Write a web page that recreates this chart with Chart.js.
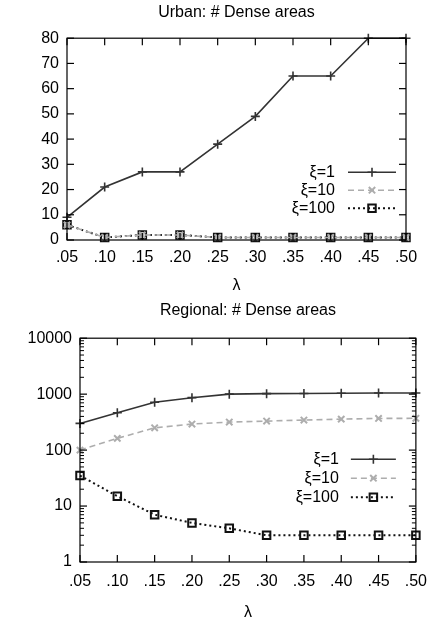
<!DOCTYPE html>
<html>
<head>
<meta charset="utf-8">
<script src="https://cdn.jsdelivr.net/npm/chart.js@4/dist/chart.umd.min.js"></script>
<style>
  html, body { margin: 0; padding: 0; background: #fff; }
  .box { position: absolute; left: 0; width: 437px; }
  #urbanBox { top: 0; height: 298px; }
  #regionalBox { top: 298px; height: 324px; }
</style>
</head>
<body>
<div class="box" id="urbanBox"><canvas id="urban"></canvas></div>
<div class="box" id="regionalBox"><canvas id="regional"></canvas></div>
<script>
const lambdas = ['.05', '.10', '.15', '.20', '.25', '.30', '.35', '.40', '.45', '.50']
const seriesNames = ['ξ=1', 'ξ=10', 'ξ=100']

const urbanXi1 = [9, 21, 27, 27, 38, 49, 65, 65, 80, 80]
const urbanXi10 = [6, 1, 2, 2, 1, 1, 1, 1, 1, 1]
const urbanXi100 = [6, 1, 2, 2, 1, 1, 1, 1, 1, 1]

const regionalXi1 = [300, 465, 715, 865, 1000, 1020, 1030, 1040, 1050, 1050]
const regionalXi10 = [100, 162, 250, 292, 317, 330, 344, 358, 368, 370]
const regionalXi100 = [35, 15, 7, 5, 4, 3, 3, 3, 3, 3]

const FONT = 'Liberation Sans, Arial, sans-serif'
const FS = 16

const styles = [
  { color: '#333333', dash: [], width: 1.6, point: 'cross', radius: 4.5, pw: 1.6 },
  { color: '#adadad', dash: [6, 4], width: 1.6, point: 'crossRot', radius: 4.5, pw: 2 },
  { color: '#111111', dash: [2, 3], width: 2, point: 'rect', radius: 5.3, pw: 2 }
]

function dataset(label, data, s) {
  return {
    label,
    data,
    borderColor: s.color,
    backgroundColor: 'transparent',
    borderDash: s.dash,
    borderWidth: s.width,
    pointStyle: s.point,
    pointRadius: s.radius,
    pointBorderWidth: s.pw,
    pointBorderColor: s.color,
    pointBackgroundColor: 'transparent',
    tension: 0,
    clip: false
  }
}

// gnuplot-like frame with inward ticks on all four sides
const frameTicks = {
  id: 'frameTicks',
  afterDatasetsDraw(chart, args, opts) {
    const { ctx, chartArea: a, scales: { x, y } } = chart
    const line = (x1, y1, x2, y2) => { ctx.beginPath(); ctx.moveTo(x1, y1); ctx.lineTo(x2, y2); ctx.stroke() }
    ctx.save()
    ctx.strokeStyle = '#000'
    ctx.lineWidth = 1.2
    ctx.strokeRect(a.left, a.top, a.right - a.left, a.bottom - a.top)
    const len = 7
    x.ticks.forEach((t, i) => {
      const px = x.getPixelForTick(i)
      line(px, a.bottom, px, a.bottom - len)
      line(px, a.top, px, a.top + len)
    })
    y.ticks.forEach((t, i) => {
      const py = y.getPixelForValue(t.value)
      line(a.left, py, a.left + len, py)
      line(a.right, py, a.right - len, py)
    })
    if (opts.logMinor) {
      ctx.lineWidth = 1
      for (let d = 1; d < 10000; d *= 10) {
        for (let m = 2; m <= 9; m++) {
          const py = y.getPixelForValue(m * d)
          line(a.left, py, a.left + 4, py)
          line(a.right, py, a.right - 4, py)
        }
      }
    }
    ctx.restore()
  }
}

// legend inside the plot: label text, then a line sample with marker
const insideLegend = {
  id: 'insideLegend',
  afterDraw(chart, args, opts) {
    const { ctx, chartArea: a } = chart
    ctx.save()
    ctx.font = FS + 'px ' + FONT
    ctx.textAlign = 'right'
    ctx.textBaseline = 'middle'
    chart.data.datasets.forEach((ds, i) => {
      const s = styles[i]
      const yy = a.top + opts.top + i * opts.step
      const x1 = a.right - opts.sampleStart
      const x2 = a.right - opts.sampleEnd
      ctx.fillStyle = '#000'
      ctx.fillText(ds.label, a.right - opts.textRight, yy)
      ctx.strokeStyle = s.color
      ctx.lineWidth = s.width
      ctx.setLineDash(s.dash)
      ctx.beginPath(); ctx.moveTo(x1, yy); ctx.lineTo(x2, yy); ctx.stroke()
      ctx.setLineDash([])
      ctx.fillStyle = 'rgba(0,0,0,0)'
      ctx.lineWidth = s.pw
      Chart.helpers.drawPoint(ctx, { pointStyle: s.point, radius: s.radius, borderWidth: s.pw, rotation: 0 }, (x1 + x2) / 2, yy)
    })
    ctx.restore()
  }
}

function makeChart(id, title, sets, yScale, cfg) {
  return new Chart(document.getElementById(id), {
    type: 'line',
    data: {
      labels: lambdas,
      datasets: sets.map((d, i) => dataset(seriesNames[i], d, styles[i]))
    },
    plugins: [frameTicks, insideLegend],
    options: {
      responsive: true,
      maintainAspectRatio: false,
      animation: false,
      layout: { padding: { top: 0, right: cfg.padRight, left: 0, bottom: 0 } },
      plugins: {
        legend: { display: false },
        tooltip: { enabled: false },
        title: {
          display: true,
          fullSize: false,
          text: title,
          color: '#000',
          font: { family: FONT, size: FS, weight: 'normal' },
          padding: cfg.titlePad
        },
        frameTicks: { logMinor: cfg.logMinor },
        insideLegend: cfg.legend
      },
      scales: {
        x: {
          offset: false,
          grid: { display: false, drawTicks: false },
          border: { display: false },
          afterFit: s => { s.height = cfg.xHeight },
          ticks: { color: '#000', font: { family: FONT, size: FS }, padding: cfg.xTickPad, maxRotation: 0, autoSkip: false },
          title: { display: true, text: 'λ', color: '#000', font: { family: FONT, size: FS }, padding: { top: 0, bottom: cfg.lambdaPad } }
        },
        y: Object.assign({
          grid: { display: false, drawTicks: false },
          border: { display: false },
          afterFit: s => { s.width = cfg.yWidth }
        }, yScale)
      }
    }
  })
}

makeChart('urban', 'Urban: # Dense areas', [urbanXi1, urbanXi10, urbanXi100], {
  type: 'linear',
  min: 0,
  max: 80,
  ticks: { stepSize: 10, color: '#000', font: { family: FONT, size: FS }, padding: 8 }
}, {
  legend: { top: 134, step: 18, textRight: 71, sampleStart: 58, sampleEnd: 10 },
  logMinor: false, yWidth: 67, padRight: 31,
  titlePad: { top: 3, bottom: 16 }, xHeight: 58, xTickPad: 8, lambdaPad: 3
})

makeChart('regional', 'Regional: # Dense areas', [regionalXi1, regionalXi10, regionalXi100], {
  type: 'logarithmic',
  min: 1,
  max: 10000,
  afterBuildTicks: s => { s.ticks = [1, 10, 100, 1000, 10000].map(v => ({ value: v })) },
  ticks: { color: '#000', font: { family: FONT, size: FS }, padding: 8, callback: v => String(v) }
}, {
  legend: { top: 121, step: 19, textRight: 77, sampleStart: 65, sampleEnd: 20 },
  logMinor: true, yWidth: 80, padRight: 18,
  titlePad: { top: 2.5, bottom: 18.5 }, xHeight: 60, xTickPad: 10, lambdaPad: 0
})
</script>
</body>
</html>
